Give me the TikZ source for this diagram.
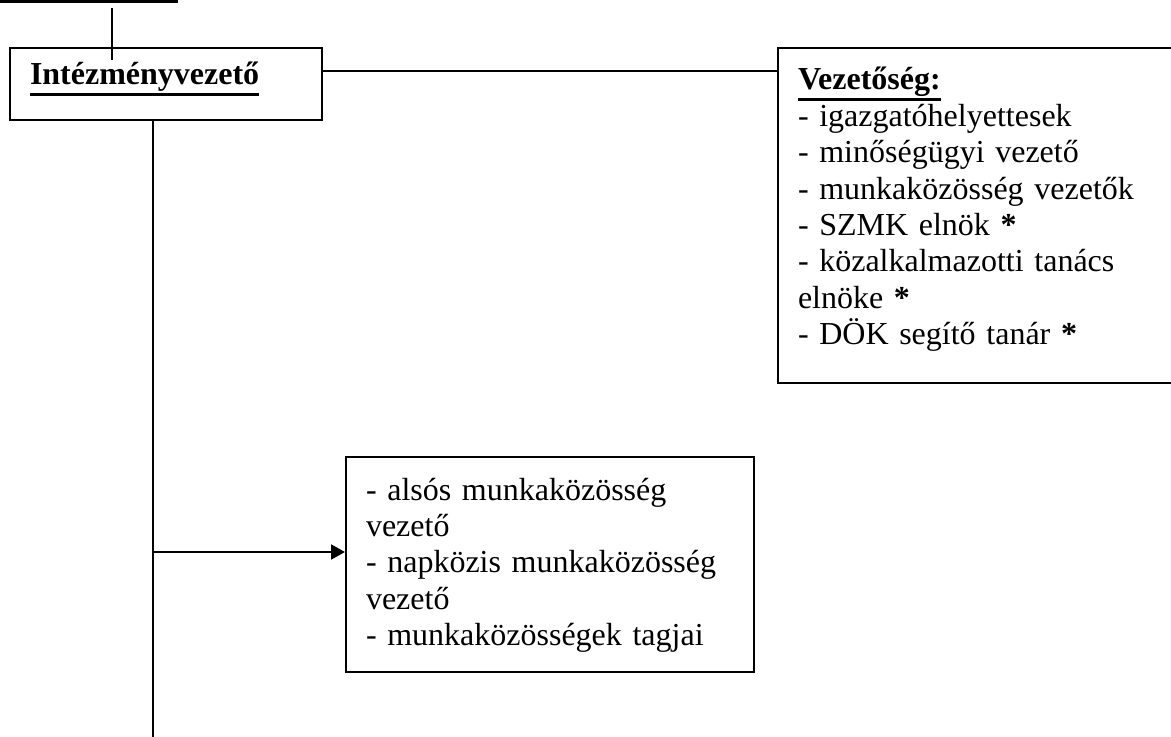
\documentclass[tikz,border=0pt]{standalone}
\usepackage{fontspec}
\setmainfont{Liberation Serif}
\usetikzlibrary{arrows.meta,positioning}
\newcommand{\ulbold}[1]{\setbox0\hbox{\textbf{#1}}\rlap{\rule[-5.3pt]{\wd0}{1.3pt}}\box0}
\tikzset{
  orgbox/.style={draw,line width=1pt,anchor=base west,align=left,inner ysep=0pt,inner xsep=10pt,
    font=\fontsize{16}{18.2}\selectfont},
  link/.style={line width=1pt}
}
\begin{document}
\begin{tikzpicture}[x=0.5pt,y=-0.5pt]
  \useasboundingbox (0,0) rectangle (1171,737);
  \node[orgbox,text width=136pt,text height=18.5pt,text depth=17.5pt] (head) at (9,85) {\ulbold{Intézményvezető}};
  \node[orgbox,text width=191.5pt,text height=21pt,text depth=146.5pt] (board) at (777,90)
    {\ulbold{Vezetőség:}\\
     - igazgatóhelyettesek\\
     - minőségügyi vezető\\
     - munkaközösség vezetők\\
     - SZMK elnök \textbf{*}\\
     - közalkalmazotti tanács\\
     elnöke \textbf{*}\\
     - DÖK segítő tanár \textbf{*}};
  \node[orgbox,text width=184pt,text height=21.5pt,text depth=86pt] (staff) at (345,500)
    {- alsós munkaközösség\\
     vezető\\
     - napközis munkaközösség\\
     vezető\\
     - munkaközösségek tagjai};
  \coordinate (topl) at (0,1.3);
  \coordinate (topr) at (178,1.3);
  \coordinate (feed) at (112,8);
  \coordinate (trunk) at (153,737);
  \coordinate (fork) at (153,552);
  \draw[line width=1.35pt] (topl) -- (topr);
  \draw[link] (feed) -- ([yshift=-6.5pt]feed |- head.north);
  \draw[link] (head.north east) ++(0,24) coordinate (join) -- (join -| board.west);
  \draw[link] (head.south -| trunk) -- (trunk);
  \draw[link,-{Triangle[length=7pt,width=7.5pt]}] (fork) -- (fork -| staff.west);
\end{tikzpicture}
\end{document}
